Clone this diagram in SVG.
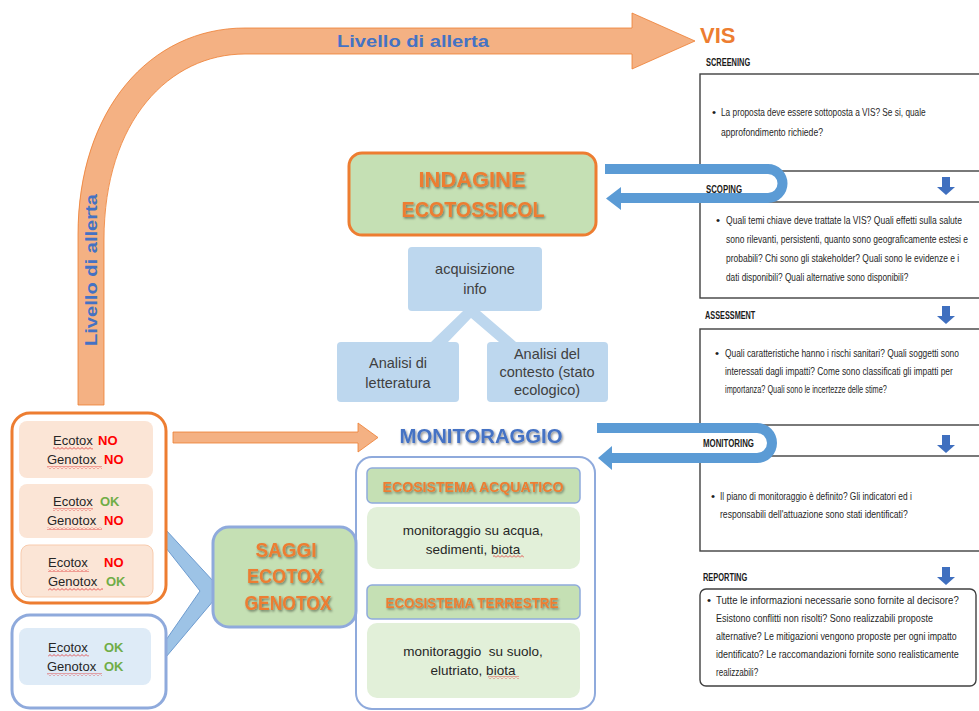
<svg xmlns="http://www.w3.org/2000/svg" xmlns:xlink="http://www.w3.org/1999/xlink" width="979" height="711" viewBox="0 0 979 711">
<defs>
<style>
.lbl{font-family:"Liberation Sans",Arial,sans-serif;font-weight:bold;font-size:11px;fill:#1a1a1a}
.q{font-family:"Liberation Sans",Arial,sans-serif;font-size:11.5px;fill:#1f1f1f}
.pbox{fill:#fff;stroke:#404040;stroke-width:1.4}
.darr{fill:#3F6FBF}
.uarr{fill:#5B9BD5}
.oarr{fill:#F4B183;stroke:#ED7D31;stroke-width:0.8}
.tt{font-family:"Liberation Sans",Arial,sans-serif;font-weight:bold;fill:#ED7D31;text-anchor:middle}
.blue{font-family:"Liberation Sans",Arial,sans-serif;font-weight:bold;fill:#4472C4;text-anchor:middle}
.etx{font-family:"Liberation Sans",Arial,sans-serif;font-size:13px;fill:#262626}
.no{fill:#FF0000;font-weight:bold}
.ok{fill:#70AD47;font-weight:bold}
.peach{fill:#FBE5D6}
.lblue{fill:#DEEBF7}
.info{fill:#BDD7EE}
.itx{font-family:"Liberation Sans",Arial,sans-serif;font-size:14.5px;fill:#404040;text-anchor:middle}
.gtx{font-family:"Liberation Sans",Arial,sans-serif;font-size:13.5px;fill:#262626;text-anchor:middle}
.ghead{fill:#C5E0B4;stroke:#8FAADC;stroke-width:1.5}
.gbody{fill:#E2F0D9}
.wv{fill:url(#wavy)}
</style>
<filter id="sh" x="-10%" y="-30%" width="130%" height="170%">
<feDropShadow dx="1.2" dy="1.5" stdDeviation="0.9" flood-color="#000" flood-opacity="0.45"/>
</filter>
<pattern id="wavy" width="4" height="3" patternUnits="userSpaceOnUse">
<path d="M0,2.5 L2,0.5 L4,2.5" fill="none" stroke="#E03030" stroke-width="0.8"/>
</pattern>
<path id="da" d="M-4,0 h8 v10 h5 l-9,8 l-9,-8 h5 z"/>
</defs>

<rect width="979" height="711" fill="#fff"/>

<!-- right panel: VIS -->
<g id="vis-panel">
<text x="700" y="43" font-family="Liberation Sans,Arial,sans-serif" font-weight="bold" font-size="22" fill="#ED7D31">VIS</text>
<g id="screening">
<g transform="translate(706,0) scale(0.68,1)"><text class="lbl" x="0" y="66" textLength="65" lengthAdjust="spacingAndGlyphs">SCREENING</text></g>
<rect class="pbox" x="700" y="74" width="290" height="97"/>
<text class="q" x="712" y="116">•</text>
<g transform="translate(721,0) scale(0.68,1)">
<text class="q" x="0" y="116" textLength="301" lengthAdjust="spacingAndGlyphs">La proposta deve essere sottoposta a VIS? Se si, quale</text>
<text class="q" x="0" y="136" textLength="150" lengthAdjust="spacingAndGlyphs">approfondimento richiede?</text>
</g>
</g>
<g id="scoping">
<g transform="translate(706,0) scale(0.68,1)"><text class="lbl" x="0" y="193" textLength="53" lengthAdjust="spacingAndGlyphs">SCOPING</text></g>
<rect class="pbox" x="700" y="202" width="290" height="96"/>
<text class="q" x="716" y="224">•</text>
<g transform="translate(726,0) scale(0.68,1)">
<text class="q" x="0" y="224" textLength="347" lengthAdjust="spacingAndGlyphs">Quali temi chiave deve trattate la VIS? Quali effetti  sulla salute</text>
<text class="q" x="0" y="243" textLength="356" lengthAdjust="spacingAndGlyphs">sono rilevanti, persistenti, quanto sono geograficamente estesi e</text>
<text class="q" x="0" y="262" textLength="343" lengthAdjust="spacingAndGlyphs">probabili? Chi sono gli stakeholder? Quali sono le evidenze e i</text>
<text class="q" x="0" y="281" textLength="268" lengthAdjust="spacingAndGlyphs">dati disponibili? Quali alternative sono disponibili?</text>
</g>
</g>
<g id="assessment">
<g transform="translate(705,0) scale(0.68,1)"><text class="lbl" x="0" y="319" textLength="74" lengthAdjust="spacingAndGlyphs">ASSESSMENT</text></g>
<rect class="pbox" x="700" y="329" width="290" height="96"/>
<text class="q" x="715" y="357">•</text>
<g transform="translate(725,0) scale(0.68,1)">
<text class="q" x="0" y="357" textLength="344" lengthAdjust="spacingAndGlyphs">Quali caratteristiche hanno i rischi sanitari? Quali soggetti sono</text>
<text class="q" x="0" y="375" textLength="335" lengthAdjust="spacingAndGlyphs">interessati dagli impatti? Come sono classificati gli impatti per</text>
<text class="q" x="0" y="393" textLength="238" lengthAdjust="spacingAndGlyphs">importanza? Quali sono le incertezze delle stime?</text>
</g>
</g>
<g id="monitoring">
<g transform="translate(703,0) scale(0.68,1)"><text class="lbl" x="0" y="447" textLength="75" lengthAdjust="spacingAndGlyphs">MONITORING</text></g>
<rect class="pbox" x="700" y="456" width="290" height="95"/>
<text class="q" x="711" y="500">•</text>
<g transform="translate(720,0) scale(0.68,1)">
<text class="q" x="0" y="500" textLength="282" lengthAdjust="spacingAndGlyphs">Il piano di monitoraggio  è definito? Gli indicatori ed i</text>
<text class="q" x="0" y="518" textLength="276" lengthAdjust="spacingAndGlyphs">responsabili dell'attuazione sono stati identificati?</text>
</g>
</g>
<g id="reporting">
<g transform="translate(703,0) scale(0.68,1)"><text class="lbl" x="0" y="581" textLength="65" lengthAdjust="spacingAndGlyphs">REPORTING</text></g>
<rect class="pbox" x="700" y="589" width="276" height="97" rx="6"/>
<text class="q" x="707" y="604">•</text>
<g transform="translate(716,0) scale(0.68,1)">
<text class="q" x="0" y="604" textLength="357" lengthAdjust="spacingAndGlyphs">Tutte le informazioni necessarie sono fornite al decisore?</text>
<text class="q" x="0" y="622" textLength="319" lengthAdjust="spacingAndGlyphs">Esistono conflitti non risolti? Sono realizzabili proposte</text>
<text class="q" x="0" y="640" textLength="354" lengthAdjust="spacingAndGlyphs">alternative? Le mitigazioni vengono proposte per ogni impatto</text>
<text class="q" x="0" y="658" textLength="357" lengthAdjust="spacingAndGlyphs">identificato? Le raccomandazioni  fornite sono realisticamente</text>
<text class="q" x="0" y="676" textLength="62" lengthAdjust="spacingAndGlyphs">realizzabili?</text>
</g>
</g>
</g>

<!-- connectors -->
<g id="connectors">
<path class="oarr" d="M78,405 L78,235 C78,110 150,28 245,28 L632,28 L632,13 L695,41 L632,69 L632,54 L245,54 C170,54 104,120 104,240 L104,405 Z"/>
<path class="oarr" d="M173,432 L358,432 L358,423 L378,437.5 L358,452 L358,443 L173,443 Z"/>
<path class="uarr" d="M605,164 L768,164 A19.5,19.5 0 0 1 768,203 L621,203 L621,210 L606,198.5 L621,187 L621,193 L768,193 A9.5,9.5 0 0 0 768,174 L605,174 Z"/>
<path class="uarr" d="M597,423 L757,423 A20,20 0 0 1 757,463 L612,463 L612,470 L598,458 L612,446 L612,453 L757,453 A10,10 0 0 0 757,433 L597,433 Z"/>
<polygon fill="#BDD7EE" points="463,311 480,311 516,342 499,342 471,318 448,342 431,342"/>
<polygon fill="#9DC3E6" stroke="#6E9CD0" stroke-width="1" points="166,530 214,582 214,600 166,657 166,640 200,591 166,548"/>
<use href="#da" xlink:href="#da" class="darr" x="946" y="177"/>
<use href="#da" xlink:href="#da" class="darr" x="946" y="306"/>
<use href="#da" xlink:href="#da" class="darr" x="946" y="435"/>
<use href="#da" xlink:href="#da" class="darr" x="946" y="567"/>
<text class="blue" x="413" y="47" font-size="17" textLength="152" lengthAdjust="spacingAndGlyphs">Livello di allerta</text>
<text class="blue" font-size="17" textLength="152" lengthAdjust="spacingAndGlyphs" transform="translate(97,270) rotate(-90)">Livello di allerta</text>
</g>

<!-- INDAGINE -->
<g id="indagine">
<rect x="349" y="153" width="247" height="82" rx="13" fill="#C5E0B4" stroke="#ED7D31" stroke-width="3"/>
<text class="tt" x="472" y="187" font-size="22" filter="url(#sh)" textLength="107" lengthAdjust="spacingAndGlyphs">INDAGINE</text>
<text class="tt" x="473" y="217" font-size="22" filter="url(#sh)" textLength="143" lengthAdjust="spacingAndGlyphs">ECOTOSSICOL</text>
</g>

<g id="acquisizione">
<rect class="info" x="408" y="247" width="134" height="64" rx="4"/>
<text class="itx" x="475" y="274">acquisizione</text>
<text class="itx" x="475" y="294">info</text>
</g>
<g id="letteratura">
<rect class="info" x="337" y="342" width="122" height="60" rx="4"/>
<text class="itx" x="398" y="368">Analisi di</text>
<text class="itx" x="398" y="388">letteratura</text>
</g>
<g id="contesto">
<rect class="info" x="487" y="342" width="121" height="60" rx="4"/>
<text class="itx" x="547" y="359" font-size="13.5">Analisi del</text>
<text class="itx" x="547" y="377" font-size="13.5">contesto (stato</text>
<text class="itx" x="547" y="395" font-size="13.5">ecologico)</text>
</g>

<!-- MONITORAGGIO -->
<g id="monitoraggio">
<text class="blue" x="481" y="443" font-size="20" filter="url(#sh)" textLength="163" lengthAdjust="spacingAndGlyphs">MONITORAGGIO</text>
<rect x="356" y="457" width="239" height="252" rx="16" fill="#fff" stroke="#8FAADC" stroke-width="2"/>
<rect class="ghead" x="367" y="468" width="213" height="35" rx="5"/>
<text class="tt" x="473" y="492" font-size="14" filter="url(#sh)" textLength="181" lengthAdjust="spacingAndGlyphs">ECOSISTEMA ACQUATICO</text>
<rect class="gbody" x="367" y="507" width="213" height="62" rx="10"/>
<text class="gtx" x="473" y="535">monitoraggio su acqua,</text>
<text class="gtx" x="473" y="554">sedimenti, biota</text>
<rect class="wv" x="493" y="555" width="31" height="3"/>
<rect class="ghead" x="367" y="585" width="213" height="34" rx="5"/>
<text class="tt" x="472" y="608" font-size="14" filter="url(#sh)" textLength="173" lengthAdjust="spacingAndGlyphs">ECOSISTEMA TERRESTRE</text>
<rect class="gbody" x="367" y="623" width="213" height="75" rx="10"/>
<text class="gtx" x="473" y="656" xml:space="preserve">monitoraggio  su suolo,</text>
<text class="gtx" x="473" y="675">elutriato, biota</text>
<rect class="wv" x="488" y="676" width="31" height="3"/>
</g>

<!-- SAGGI -->
<g id="saggi">
<rect x="213" y="527" width="143" height="100" rx="16" fill="#C5E0B4" stroke="#8FAADC" stroke-width="3"/>
<text class="tt" x="286" y="557" font-size="21" filter="url(#sh)" textLength="61" lengthAdjust="spacingAndGlyphs">SAGGI</text>
<text class="tt" x="285" y="583" font-size="21" filter="url(#sh)" textLength="76" lengthAdjust="spacingAndGlyphs">ECOTOX</text>
<text class="tt" x="288" y="610" font-size="21" filter="url(#sh)" textLength="87" lengthAdjust="spacingAndGlyphs">GENOTOX</text>
</g>

<!-- left results -->
<g id="esiti-negativi">
<rect x="12" y="413" width="154" height="190" rx="18" fill="#fff" stroke="#ED7D31" stroke-width="3"/>
<g id="esito-1">
<rect class="peach" x="19" y="421" width="134" height="57" rx="8"/>
<text class="etx" x="53" y="445">Ecotox<tspan class="no" x="98">NO</tspan></text>
<text class="etx" x="47" y="464">Genotox<tspan class="no" x="104">NO</tspan></text>
<rect class="wv" x="53" y="447" width="40" height="3"/>
<rect class="wv" x="47" y="466" width="55" height="3"/>
</g>
<g id="esito-2">
<rect class="peach" x="19" y="484" width="134" height="54" rx="8"/>
<text class="etx" x="53" y="506">Ecotox<tspan class="ok" x="100">OK</tspan></text>
<text class="etx" x="47" y="525">Genotox<tspan class="no" x="104">NO</tspan></text>
<rect class="wv" x="53" y="508" width="40" height="3"/>
<rect class="wv" x="47" y="527" width="55" height="3"/>
</g>
<g id="esito-3">
<rect class="peach" x="21" y="545" width="132" height="52" rx="8" stroke="#F8CBAD" stroke-width="1"/>
<text class="etx" x="48" y="567">Ecotox<tspan class="no" x="104">NO</tspan></text>
<text class="etx" x="48" y="586">Genotox<tspan class="ok" x="106">OK</tspan></text>
<rect class="wv" x="48" y="569" width="41" height="3"/>
<rect class="wv" x="48" y="588" width="55" height="3"/>
</g>
</g>
<g id="esiti-positivi">
<rect x="12" y="615" width="154" height="93" rx="18" fill="#fff" stroke="#8FAADC" stroke-width="3"/>
<g id="esito-4">
<rect class="lblue" x="19" y="628" width="132" height="57" rx="8"/>
<text class="etx" x="48" y="652">Ecotox<tspan class="ok" x="104">OK</tspan></text>
<text class="etx" x="47" y="671">Genotox<tspan class="ok" x="104">OK</tspan></text>
<rect class="wv" x="48" y="654" width="41" height="3"/>
<rect class="wv" x="47" y="673" width="55" height="3"/>
</g>
</g>
</svg>
